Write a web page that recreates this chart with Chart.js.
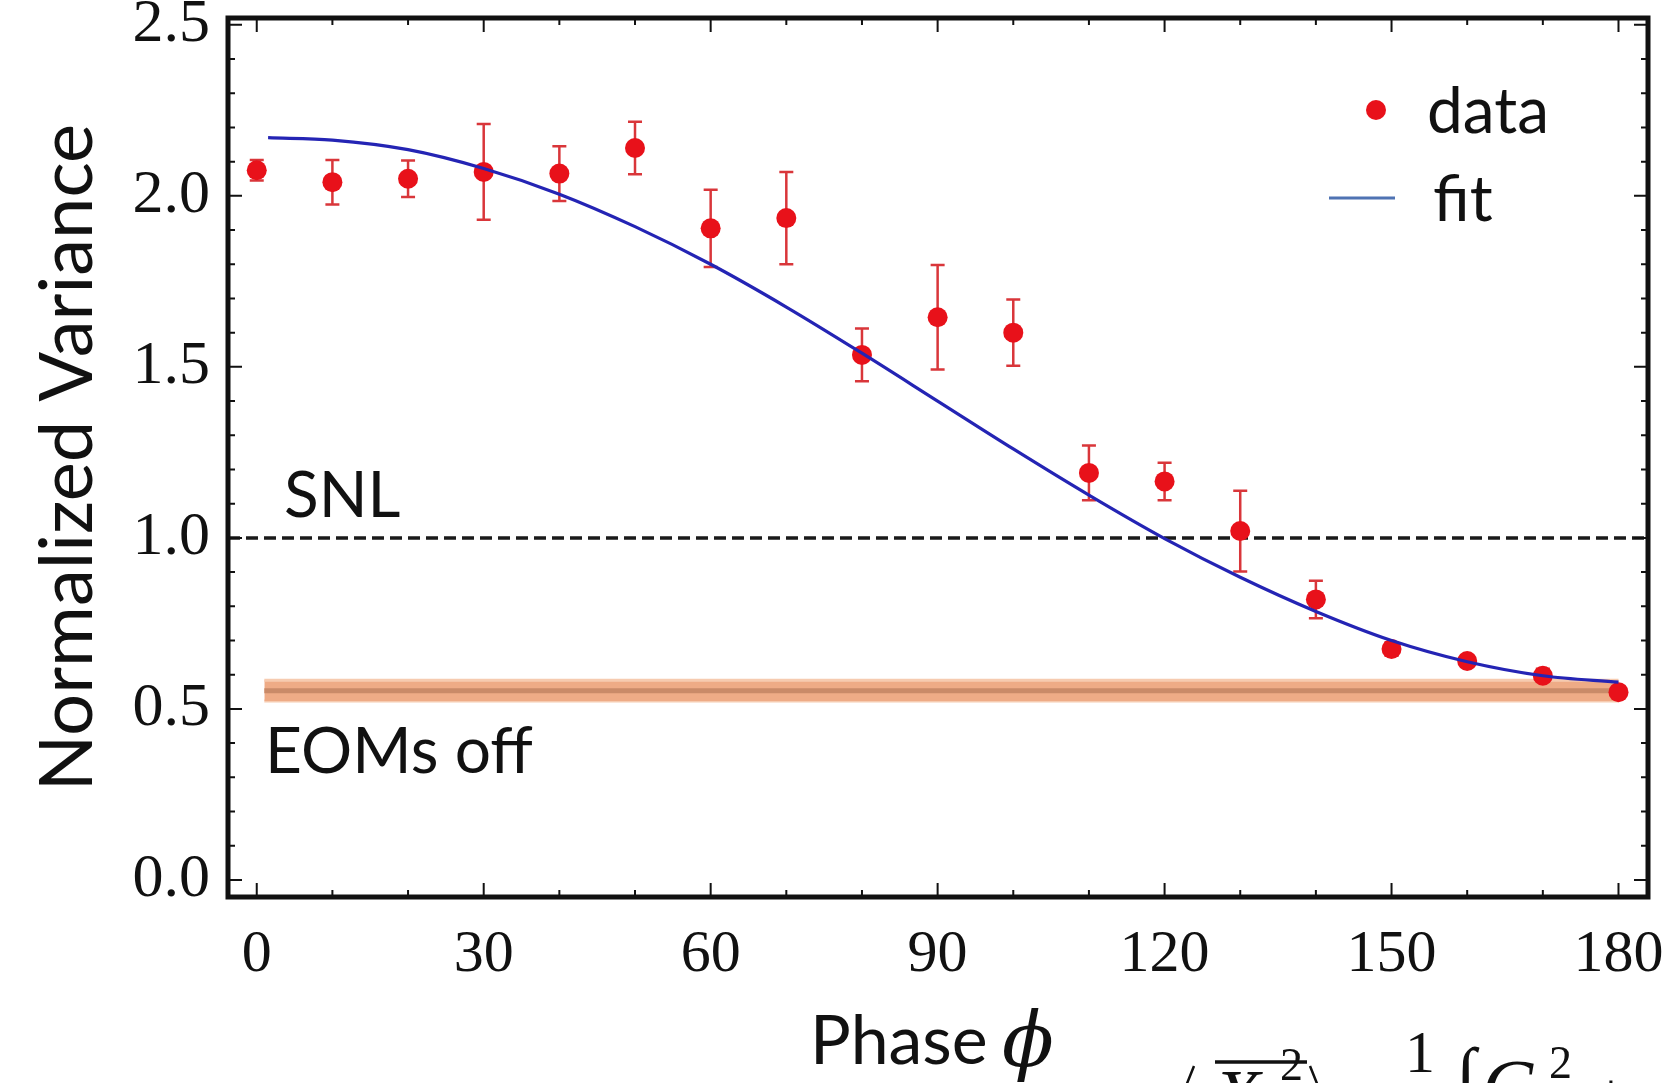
<!DOCTYPE html>
<html>
<head>
<meta charset="utf-8">
<script src="https://cdn.jsdelivr.net/npm/chart.js@4.4.0/dist/chart.umd.min.js"></script>
<style>
  html, body { margin: 0; padding: 0; background: #fff; }
  #wrap { width: 1664px; height: 1083px; position: relative; overflow: hidden; }
</style>
</head>
<body>
<div id="wrap"><canvas id="chart" width="1664" height="1083"></canvas></div>
<script>
// measured points (phase in degrees) with error bars
const phase = [0, 10, 20, 30, 40, 50, 60, 70, 80, 90, 100, 110, 120, 130, 140, 150, 160, 170, 180];
const variance = [2.075, 2.04, 2.05, 2.07, 2.065, 2.14, 1.905, 1.935, 1.535, 1.645, 1.60, 1.19, 1.165, 1.02, 0.82, 0.675, 0.64, 0.597, 0.549];
const varianceErr = [0.03, 0.065, 0.053, 0.14, 0.08, 0.077, 0.113, 0.135, 0.077, 0.153, 0.097, 0.08, 0.055, 0.118, 0.055, 0.02, 0.012, 0.02, 0.01];

// fit curve
const fitPhase = [1.5, 10, 20, 30, 40, 50, 60, 70, 80, 90, 100, 110, 120, 130, 140, 150, 160, 170, 180];
const fitVariance = [2.17, 2.163, 2.135, 2.08, 2.005, 1.91, 1.80, 1.675, 1.54, 1.40, 1.26, 1.125, 0.998, 0.885, 0.785, 0.70, 0.638, 0.597, 0.578];

// reference levels
const snlLevel = 1.0;
const eomPhase = [1, 180];
const eomLow = 0.523;
const eomMid = 0.553;
const eomHigh = 0.584;

// axes
const xTicks = [0, 30, 60, 90, 120, 150, 180];
const yTicks = [0.0, 0.5, 1.0, 1.5, 2.0, 2.5];
const xMin = -3.8, xMax = 183.9;
const yMin = -0.05, yMax = 2.52;

const pts = (xs, ys) => xs.map((x, i) => ({ x, y: ys[i] }));
const flat = (xs, v) => xs.map(x => ({ x, y: v }));

const SANS = 'Lato, "Open Sans", sans-serif';
const SERIF = '"Liberation Serif", "Times New Roman", serif';

/**
 * Error bars under the markers
 */
const errorBars = {
    id: 'errorBars',
    beforeDatasetsDraw(chart) {
        const { ctx, scales: { x, y } } = chart;
        ctx.save();
        ctx.strokeStyle = '#d9363a';
        ctx.lineWidth = 2.5;
        phase.forEach((p, i) => {
            const px = x.getPixelForValue(p);
            const top = y.getPixelForValue(variance[i] + varianceErr[i]);
            const bot = y.getPixelForValue(variance[i] - varianceErr[i]);
            ctx.beginPath();
            ctx.moveTo(px, top); ctx.lineTo(px, bot);
            ctx.moveTo(px - 7, top); ctx.lineTo(px + 7, top);
            ctx.moveTo(px - 7, bot); ctx.lineTo(px + 7, bot);
            ctx.stroke();
        });
        ctx.restore();
    }
};

/**
 * Frame, inward ticks, legend and text labels
 */
const decorations = {
    id: 'decorations',
    afterDraw(chart) {
        const { ctx, chartArea: a, scales: { x, y } } = chart;
        ctx.save();
        ctx.strokeStyle = '#111';
        ctx.lineWidth = 2;
        ctx.beginPath();
        for (let v = 0; v <= 180; v += 10) {
            const px = x.getPixelForValue(v);
            const len = v % 30 === 0 ? 14 : 7;
            ctx.moveTo(px, a.bottom); ctx.lineTo(px, a.bottom - len);
            ctx.moveTo(px, a.top); ctx.lineTo(px, a.top + len);
        }
        for (let i = 0; i <= 25; i++) {
            const py = y.getPixelForValue(i / 10);
            const len = i % 5 === 0 ? 14 : 7;
            ctx.moveTo(a.left, py); ctx.lineTo(a.left + len, py);
            ctx.moveTo(a.right, py); ctx.lineTo(a.right - len, py);
        }
        ctx.stroke();

        ctx.lineWidth = 5;
        ctx.strokeRect(a.left, a.top, a.right - a.left, a.bottom - a.top);

        // legend
        ctx.fillStyle = '#e8111a';
        ctx.beginPath();
        ctx.arc(a.left + 1148, a.top + 92, 10, 0, Math.PI * 2);
        ctx.fill();
        ctx.strokeStyle = '#4f73b3';
        ctx.lineWidth = 3;
        ctx.beginPath();
        ctx.moveTo(a.left + 1101, a.top + 180);
        ctx.lineTo(a.left + 1167, a.top + 180);
        ctx.stroke();

        ctx.fillStyle = '#111';
        ctx.textBaseline = 'alphabetic';
        ctx.textAlign = 'left';
        ctx.font = `64px ${SANS}`;
        ctx.fillText('data', a.left + 1199, a.top + 115);
        ctx.fillText('fit', a.left + 1205, a.top + 203);

        // annotations
        ctx.fillText('SNL', a.left + 56, a.top + 499);
        ctx.fillText('EOMs off', a.left + 37, a.top + 755);

        // x title
        ctx.font = `68px ${SANS}`;
        ctx.fillText('Phase', 810, 1064);
        ctx.font = `italic 76px "DejaVu Serif", serif`;
        ctx.fillText('\u03D5', 1002, 1066);

        // cut-off formula below the plot
        ctx.lineWidth = 2.5;
        ctx.strokeStyle = '#111';
        ctx.beginPath();
        ctx.moveTo(1194, 1066); ctx.lineTo(1174, 1116);
        ctx.moveTo(1310, 1066); ctx.lineTo(1330, 1116);
        ctx.stroke();
        ctx.lineWidth = 3.5;
        ctx.beginPath();
        ctx.moveTo(1215, 1062); ctx.lineTo(1307, 1062);
        ctx.stroke();
        ctx.font = `italic 76px ${SERIF}`;
        ctx.fillText('X', 1214, 1122);
        ctx.fillText('G', 1482, 1112);
        ctx.font = `46px ${SERIF}`;
        ctx.fillText('2', 1280, 1080);
        ctx.fillText('2', 1549, 1078);
        ctx.font = `60px ${SERIF}`;
        ctx.fillText('=', 1337, 1110);
        ctx.fillText('1', 1405, 1072);
        ctx.fillText('+', 1594, 1114);
        ctx.font = `72px ${SERIF}`;
        ctx.fillText('\u222B', 1456, 1098);
        ctx.restore();
    }
};

new Chart(document.getElementById('chart'), {
    type: 'line',
    data: {
        datasets: [
            {
                label: 'fit',
                data: pts(fitPhase, fitVariance),
                borderColor: '#2424b4',
                borderWidth: 3.2,
                pointRadius: 0,
                cubicInterpolationMode: 'monotone',
                fill: false
            },
            {
                label: 'data',
                data: pts(phase, variance),
                showLine: false,
                pointRadius: 10,
                pointBackgroundColor: '#e8111a',
                pointBorderWidth: 0
            },
            {
                label: 'SNL',
                data: flat([xMin, xMax], snlLevel),
                borderColor: '#1a1a1a',
                borderWidth: 3.5,
                borderDash: [12, 6],
                pointRadius: 0,
                fill: false
            },
            {
                label: 'EOMs off mid',
                data: flat(eomPhase, eomMid),
                borderColor: '#c98a68',
                borderWidth: 5,
                pointRadius: 0,
                fill: false
            },
            {
                label: 'EOMs off high',
                data: flat(eomPhase, eomHigh),
                borderColor: '#f6cbb0',
                borderWidth: 3,
                pointRadius: 0,
                backgroundColor: '#eeab86',
                fill: '+1'
            },
            {
                label: 'EOMs off low',
                data: flat(eomPhase, eomLow),
                borderColor: '#f6cbb0',
                borderWidth: 3,
                pointRadius: 0,
                fill: false
            }
        ]
    },
    options: {
        responsive: false,
        animation: false,
        layout: { padding: { top: 18, right: 16, left: 0, bottom: 0 } },
        plugins: {
            legend: { display: false },
            tooltip: { enabled: false }
        },
        scales: {
            x: {
                type: 'linear',
                min: xMin,
                max: xMax,
                afterBuildTicks: s => { s.ticks = xTicks.map(v => ({ value: v })); },
                ticks: {
                    font: { family: SERIF, size: 60 },
                    color: '#111',
                    padding: 14,
                    maxRotation: 0,
                    autoSkip: false
                },
                grid: { display: false },
                border: { display: false },
                afterFit: s => { s.height = 186; s.paddingLeft = 0; s.paddingRight = 0; }
            },
            y: {
                type: 'linear',
                min: yMin,
                max: yMax,
                afterBuildTicks: s => { s.ticks = yTicks.map(v => ({ value: v })); },
                ticks: {
                    font: { family: SERIF, size: 62 },
                    color: '#111',
                    padding: 10,
                    callback: v => v.toFixed(1)
                },
                grid: { display: false },
                border: { display: false },
                title: {
                    display: true,
                    text: 'Normalized Variance',
                    font: { family: SANS, size: 74 },
                    color: '#111',
                    padding: { top: 24, bottom: 0 }
                },
                afterFit: s => { s.width = 228; s.paddingTop = 0; s.paddingBottom = 0; }
            }
        }
    },
    plugins: [errorBars, decorations]
});
</script>
</body>
</html>
